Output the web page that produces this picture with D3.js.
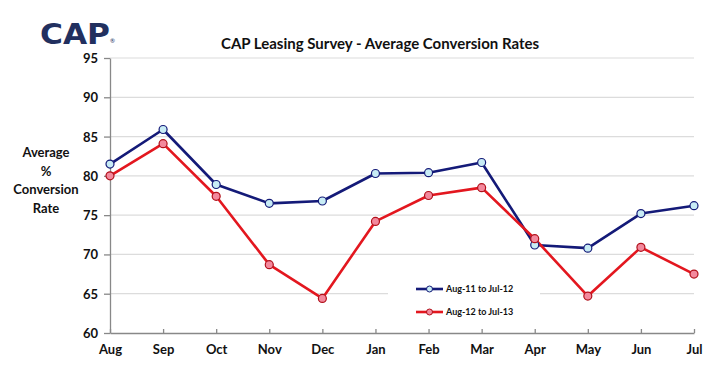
<!DOCTYPE html>
<html>
<head>
<meta charset="utf-8">
<script src="https://cdn.jsdelivr.net/npm/d3@7"></script>
<style>
  body { margin: 0; background: #fff; }
  svg { display: block; font-family: Lato, "Open Sans", sans-serif; }
  .tick text { font-weight: bold; font-size: 13px; fill: #111; }
</style>
</head>
<body>
<svg id="chart"></svg>
<script>
// Chart data
const months = ['Aug', 'Sep', 'Oct', 'Nov', 'Dec', 'Jan', 'Feb', 'Mar', 'Apr', 'May', 'Jun', 'Jul'];
const series2012 = [81.5, 85.9, 78.9, 76.5, 76.8, 80.3, 80.4, 81.7, 71.2, 70.8, 75.2, 76.2];
const series2013 = [80.0, 84.1, 77.4, 68.7, 64.4, 74.2, 77.5, 78.5, 72.0, 64.7, 70.9, 67.5];
const yTicks = [60, 65, 70, 75, 80, 85, 90, 95];
const seriesNames = ['Aug-11 to Jul-12', 'Aug-12 to Jul-13'];

const width = 727, height = 377;
const margin = {top: 58, right: 33, bottom: 44, left: 110};
const w = width - margin.left - margin.right;
const h = height - margin.top - margin.bottom;

const svg = d3.select('#chart').attr('width', width).attr('height', height);

const x = d3.scalePoint().domain(months).range([0, w]);
const y = d3.scaleLinear().domain([60, 95]).range([h, 0]);

const g = svg.append('g').attr('transform', `translate(${margin.left},${margin.top})`);

// gridlines
g.selectAll('.grid').data(yTicks.slice(1)).join('line')
    .attr('x1', 0).attr('x2', w)
    .attr('y1', d => y(d)).attr('y2', d => y(d))
    .attr('stroke', '#dcdcdc').attr('stroke-width', 1.2);

// legend background covers gridline
const legendX = 278, legendY = 212;
g.append('rect').attr('x', legendX).attr('y', legendY).attr('width', 152).attr('height', 62).attr('fill', '#fff');

// axes
const yAxis = g.append('g')
    .call(d3.axisLeft(y).tickValues(yTicks).tickSize(6).tickPadding(6).tickSizeOuter(0));
const xAxis = g.append('g').attr('transform', `translate(0,${h})`)
    .call(d3.axisBottom(x).tickSize(-4).tickPadding(12).tickSizeOuter(0));
[xAxis, yAxis].forEach(a => {
  a.select('.domain').attr('stroke', '#888').attr('stroke-width', 1.3);
  a.selectAll('.tick line').attr('stroke', '#888').attr('stroke-width', 1.3);
  a.selectAll('.tick text').style('font-family', 'Lato, "Open Sans", sans-serif');
});
yAxis.selectAll('.tick text').attr('dy', '0.35em');

const styles = [
  {line: '#141a78', fill: '#c8ecf5', stroke: '#141a78'},
  {line: '#e3171f', fill: '#f3899d', stroke: '#b0101a'}
];
const line = d3.line().x((d, i) => x(months[i])).y(d => y(d));

[series2012, series2013].forEach((s, k) => {
  g.append('path').datum(s)
      .attr('d', line)
      .attr('fill', 'none')
      .attr('stroke', styles[k].line)
      .attr('stroke-width', 2.6)
      .attr('stroke-linejoin', 'round');
});
[series2012, series2013].forEach((s, k) => {
  g.selectAll('.m' + k).data(s).join('circle')
      .attr('cx', (d, i) => x(months[i]))
      .attr('cy', d => y(d))
      .attr('r', 4)
      .attr('fill', styles[k].fill)
      .attr('stroke', styles[k].stroke)
      .attr('stroke-width', 1.2);
});

// legend
seriesNames.forEach((name, k) => {
  const ly = legendY + 19 + k * 23;
  g.append('line').attr('x1', legendX + 28).attr('x2', legendX + 55)
      .attr('y1', ly).attr('y2', ly)
      .attr('stroke', styles[k].line).attr('stroke-width', 2.6);
  g.append('circle').attr('cx', legendX + 41.5).attr('cy', ly).attr('r', 3)
      .attr('fill', styles[k].fill).attr('stroke', styles[k].stroke).attr('stroke-width', 1);
  g.append('text').attr('x', legendX + 58).attr('y', ly).attr('dy', '0.35em')
      .attr('font-size', 9).attr('font-weight', 'bold').attr('fill', '#111')
      .text(name);
});

// title
svg.append('text').attr('x', 380).attr('y', 49)
    .attr('text-anchor', 'middle').attr('font-size', 15).attr('font-weight', 'bold').attr('fill', '#111')
    .text('CAP Leasing Survey - Average Conversion Rates');

// y axis title
const yTitle = ['Average', '%', 'Conversion', 'Rate'];
svg.append('text').attr('text-anchor', 'middle').attr('font-size', 13).attr('font-weight', 'bold').attr('fill', '#111')
  .selectAll('tspan').data(yTitle).join('tspan')
    .attr('x', 46).attr('y', (d, i) => 157 + i * 18.5)
    .text(d => d);

// logo
const logo = svg.append('g').attr('transform', 'translate(40,44)');
logo.append('text').attr('x', 0).attr('y', 0)
    .attr('font-size', 29).attr('font-weight', 900)
    .attr('fill', '#22305f')
    .attr('font-family', '"DejaVu Sans", sans-serif')
    .attr('textLength', 70).attr('lengthAdjust', 'spacingAndGlyphs')
    .text('CAP');
logo.append('text').attr('x', 70).attr('y', -1).attr('font-size', 6).attr('fill', '#22305f').text('®');
</script>
</body>
</html>
